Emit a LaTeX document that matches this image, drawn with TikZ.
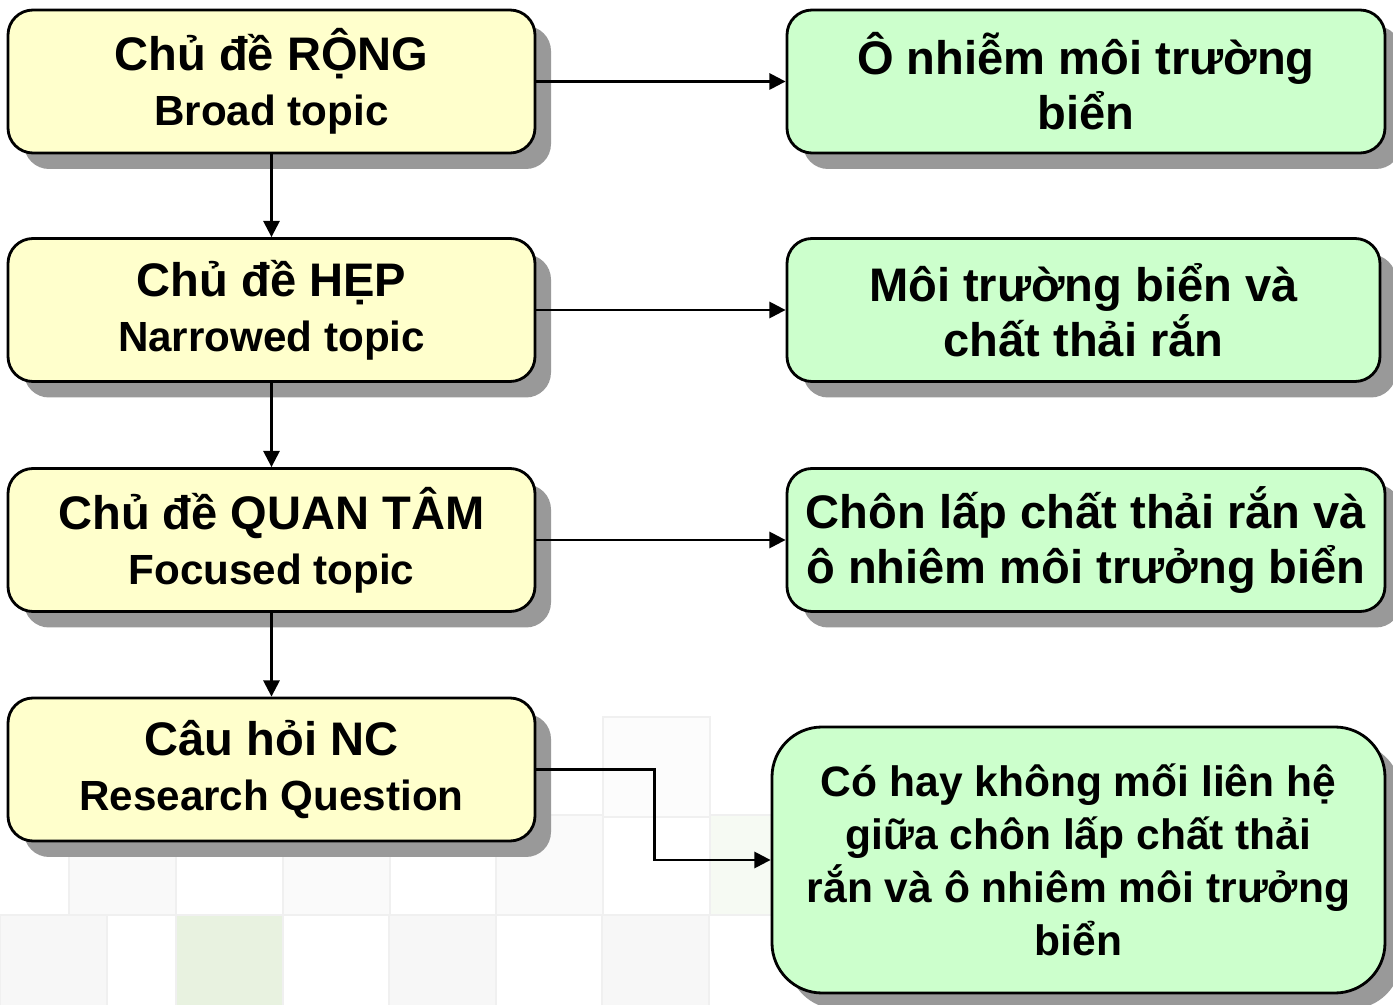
\documentclass[tikz,border=0pt]{standalone}
\usepackage{fontspec}
\setmainfont{Liberation Sans}
\usetikzlibrary{calc,positioning,shadows,arrows.meta}
\definecolor{boxyellow}{HTML}{FFFFCC}
\definecolor{boxgreen}{HTML}{CCFFCC}
\definecolor{shadowgray}{HTML}{999999}
\definecolor{tilegray}{HTML}{F7F7F7}
\definecolor{tilegreen}{HTML}{E8F2E0}
\definecolor{tileline}{HTML}{F0F0F0}
\newcommand{\subtopic}[1]{{\fontsize{12}{15.6}\selectfont #1}}

\begin{document}
\begin{tikzpicture}[
    topic/.style={draw, line width=0.8pt, rounded corners=0.25cm, align=center,
        inner sep=0pt, font=\bfseries\fontsize{13.4}{15.6}\selectfont,
        drop shadow={shadow xshift=0.16cm, shadow yshift=-0.16cm, fill=shadowgray, opacity=1}},
    left/.style={topic, fill=boxyellow, minimum width=5.27cm, minimum height=1.43cm},
    right/.style={topic, fill=boxgreen, minimum height=1.43cm},
    arr/.style={line width=0.7pt, -{Triangle[length=4.6pt,width=4.6pt]}}
]
    \useasboundingbox (0,0) rectangle (13.93,-10.05);

    % faint tiles in the background
    \foreach \x/\y/\c in {6.03/7.17/tilegray!40, 0.69/8.15/tilegray!70, 2.83/8.15/tilegray!60,
        4.96/8.15/tilegray!60, 7.10/8.15/tilegreen!40, 0/9.15/tilegray, 1.76/9.15/tilegreen,
        3.89/9.15/tilegray, 6.02/9.15/tilegray}
    {
        \fill[\c, draw=tileline, line width=0.4pt] (\x,-\y) rectangle ++(1.07,-1.0);
    };

    % left column
    \node[left] (R) at (2.715,-0.815) {Chủ đề RỘNG\\\subtopic{Broad topic}};
    \node[left] (H) at (2.715,-3.10) {Chủ đề HẸP\\\subtopic{Narrowed topic}};
    \node[left] (F) at (2.715,-5.40) {Chủ đề QUAN TÂM\\\subtopic{Focused topic}};
    \node[left] (Q) at (2.715,-7.695) {Câu hỏi NC\\\subtopic{Research Question}};

    % right column
    \node[right, minimum width=5.98cm] (R1) at (10.86,-0.815) {Ô nhiễm môi trường\\biển};
    \node[right, minimum width=5.93cm] (H1) at (10.835,-3.10) {Môi trường biển và\\chất thải rắn};
    \node[right, minimum width=5.98cm] (F1) at (10.86,-5.40) {Chôn lấp chất thải rắn và\\ô nhiêm môi trưởng biển};
    \node[right, minimum width=6.13cm, minimum height=2.66cm, rounded corners=0.5cm,
        font=\bfseries\fontsize{12.1}{15.1}\selectfont] (Q1) at (10.785,-8.60)
        {Có hay không mối liên hệ\\giữa chôn lấp chất thải\\rắn và ô nhiêm môi trưởng\\biển};

    \draw[arr] (R) -- (H);
    \draw[arr] (H) -- (F);
    \draw[arr] (F) -- (Q);

    \draw[arr] (R.east) -- (R1.west);
    \draw[arr] (H.east) -- (H.east -| H1.west);
    \draw[arr] (F.east) -- (F.east -| F1.west);
    \draw[arr] (Q.east) -- ++(1.18,0) |- (Q1.west);
\end{tikzpicture}
\end{document}
